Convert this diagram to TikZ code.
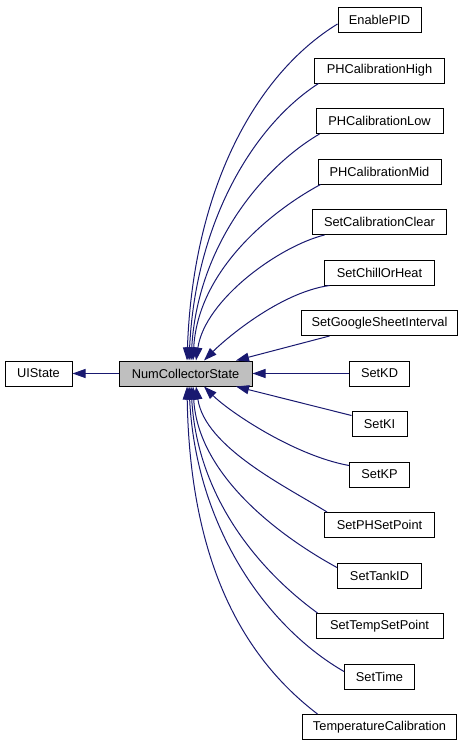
\documentclass[tikz,border=0pt]{standalone}
\usepackage{fontspec}
\setmainfont{Liberation Sans}
\usetikzlibrary{arrows.meta,calc}
\definecolor{edgeblue}{HTML}{191970}
\definecolor{focusgray}{HTML}{BFBFBF}
\begin{document}
\begin{tikzpicture}[x=1pt,y=-1pt,
  cls/.style={draw=black, line width=1pt, fill=white, minimum height=25pt, inner sep=0pt, font=\fontsize{12.8}{15}\selectfont},
  focus/.style={cls, fill=focusgray},
  inh/.style={draw=edgeblue, line width=1pt, -{Triangle[length=13pt,width=9pt]}}]
\useasboundingbox (0,0) rectangle (465,747);
% left nodes
\node[focus, minimum width=133pt] (num) at (185.5,373.5) {NumCollectorState};
\node[cls, minimum width=67pt] (ui) at (38.5,373.5) {UIState};
% right column
\node[cls, minimum width=83pt]  (en)    at (379.5,20)    {EnablePID};
\node[cls, minimum width=130pt] (pchi)  at (379.5,70.5)  {PHCalibrationHigh};
\node[cls, minimum width=127pt] (pclo)  at (379.5,121)   {PHCalibrationLow};
\node[cls, minimum width=123pt] (pcmid) at (379.5,171.5) {PHCalibrationMid};
\node[cls, minimum width=134pt] (scc)   at (379.5,222)   {SetCalibrationClear};
\node[cls, minimum width=110pt] (coh)   at (379.5,272.5) {SetChillOrHeat};
\node[cls, minimum width=156pt] (sgsi)  at (379.5,323)   {SetGoogleSheetInterval};
\node[cls, minimum width=60pt]  (kd)    at (379.5,373.5) {SetKD};
\node[cls, minimum width=55pt]  (ki)    at (379.5,424)   {SetKI};
\node[cls, minimum width=60pt]  (kp)    at (379.5,474.5) {SetKP};
\node[cls, minimum width=110pt] (php)   at (379.5,525)   {SetPHSetPoint};
\node[cls, minimum width=84pt]  (tank)  at (379.5,575.5) {SetTankID};
\node[cls, minimum width=127pt] (tsp)   at (379.5,626)   {SetTempSetPoint};
\node[cls, minimum width=70pt]  (time)  at (379.5,676.5) {SetTime};
\node[cls, minimum width=154pt] (tc)    at (379.5,727)   {TemperatureCalibration};
% edges
\draw[inh] (num.west) -- (ui.east);
\draw[inh] ($(en.west)+(0,4)$) .. controls +(-83,51) and +(6,-170) .. ($(num.north)+(1.5,0)$);
\draw[inh] ($(pchi.south west)+(4.5,0)$) .. controls +(-65,42) and +(6.5,-139) .. ($(num.north)+(3.5,0)$);
\draw[inh] ($(pclo.south west)+(4,0)$) .. controls +(-58,34) and +(6.5,-114) .. ($(num.north)+(5.5,0)$);
\draw[inh] ($(pcmid.south west)+(3,0)$) .. controls +(-50,27) and +(5,-90) .. ($(num.north)+(7.5,0)$);
\draw[inh] ($(scc.south west)+(12.5,0)$) .. controls +(-45,11) and +(9,-61) .. ($(num.north)+(10.5,0)$);
\draw[inh] ($(coh.south west)+(5.5,0)$) .. controls +(-50,7) and +(21,-21) .. ($(num.north)+(18.5,0)$);
\draw[inh] ($(sgsi.south west)+(28.5,0)$) -- ($(num.north)+(50.5,0)$);
\draw[inh] (kd.west) -- (num.east);
\draw[inh] ($(ki.north west)+(0,4.5)$) -- ($(num.south)+(50.5,0)$);
\draw[inh] ($(kp.north west)+(0,4)$) .. controls +(-55,-10) and +(25,25) .. ($(num.south)+(18.5,0)$);
\draw[inh] ($(php.north west)+(3,0)$) .. controls +(-40,-25) and +(9,61) .. ($(num.south)+(10.5,0)$);
\draw[inh] ($(tank.north west)+(0,5)$) .. controls +(-55,-30) and +(5,90) .. ($(num.south)+(7.5,0)$);
\draw[inh] ($(tsp.north west)+(2,0)$) .. controls +(-55,-40) and +(6.5,114) .. ($(num.south)+(5.5,0)$);
\draw[inh] ($(time.north west)+(0,8)$) .. controls +(-78,-45) and +(7,140) .. ($(num.south)+(3.5,0)$);
\draw[inh] ($(tc.north west)+(15.5,0)$) .. controls +(-72,-55) and +(3,180) .. ($(num.south)+(1.5,0)$);
\end{tikzpicture}
\end{document}
